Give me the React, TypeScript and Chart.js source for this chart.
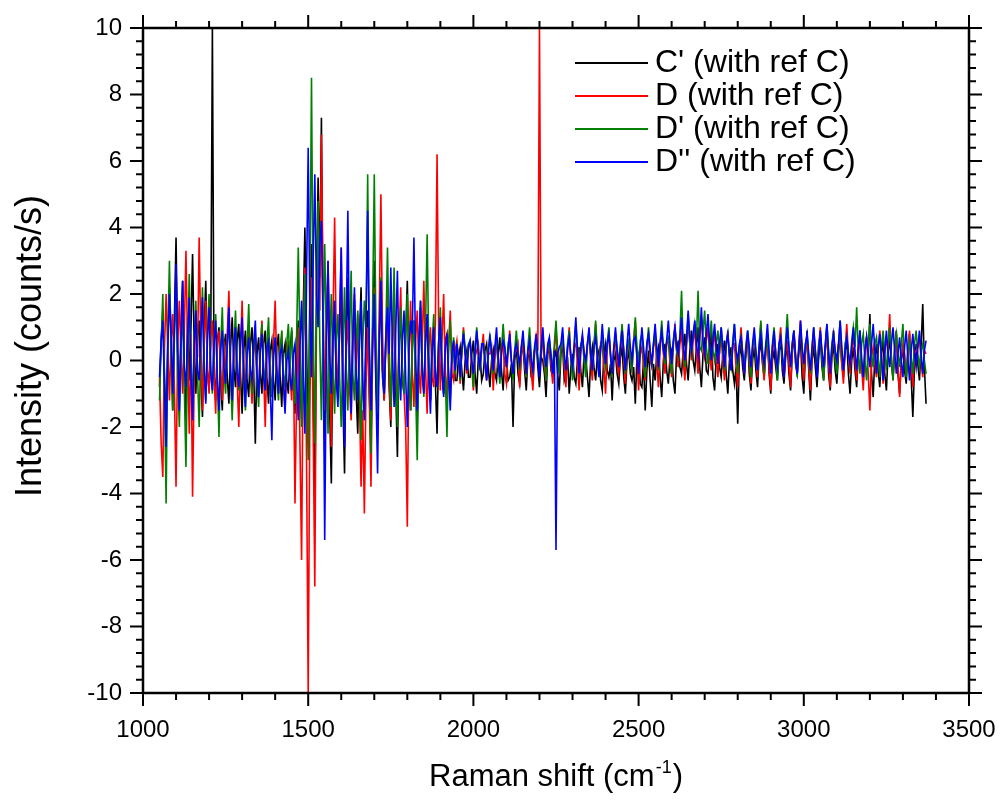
import React, { useEffect, useRef } from "react";
import { Chart, registerables } from "chart.js";

Chart.register(...registerables);

// Raman shift (cm-1) sampling grid
const ramanShift = [
  1050, 1055, 1060, 1065, 1070, 1075, 1080, 1085, 1090, 1095,
  1100, 1105, 1110, 1115, 1120, 1125, 1130, 1135, 1140, 1145,
  1150, 1155, 1160, 1165, 1170, 1175, 1180, 1185, 1190, 1195,
  1200, 1205, 1210, 1215, 1220, 1225, 1230, 1235, 1240, 1245,
  1250, 1255, 1260, 1265, 1270, 1275, 1280, 1285, 1290, 1295,
  1300, 1305, 1310, 1315, 1320, 1325, 1330, 1335, 1340, 1345,
  1350, 1355, 1360, 1365, 1370, 1375, 1380, 1385, 1390, 1395,
  1400, 1405, 1410, 1415, 1420, 1425, 1430, 1435, 1440, 1445,
  1450, 1455, 1460, 1465, 1470, 1475, 1480, 1485, 1490, 1495,
  1500, 1505, 1510, 1515, 1520, 1525, 1530, 1535, 1540, 1545,
  1550, 1555, 1560, 1565, 1570, 1575, 1580, 1585, 1590, 1595,
  1600, 1605, 1610, 1615, 1620, 1625, 1630, 1635, 1640, 1645,
  1650, 1655, 1660, 1665, 1670, 1675, 1680, 1685, 1690, 1695,
  1700, 1705, 1710, 1715, 1720, 1725, 1730, 1735, 1740, 1745,
  1750, 1755, 1760, 1765, 1770, 1775, 1780, 1785, 1790, 1795,
  1800, 1805, 1810, 1815, 1820, 1825, 1830, 1835, 1840, 1845,
  1850, 1855, 1860, 1865, 1870, 1875, 1880, 1885, 1890, 1895,
  1900, 1905, 1910, 1915, 1920, 1925, 1930, 1935, 1940, 1945,
  1950, 1955, 1960, 1965, 1970, 1975, 1980, 1985, 1990, 1995,
  2000, 2005, 2010, 2015, 2020, 2025, 2030, 2035, 2040, 2045,
  2050, 2055, 2060, 2065, 2070, 2075, 2080, 2085, 2090, 2095,
  2100, 2105, 2110, 2115, 2120, 2125, 2130, 2135, 2140, 2145,
  2150, 2155, 2160, 2165, 2170, 2175, 2180, 2185, 2190, 2195,
  2200, 2205, 2210, 2215, 2220, 2225, 2230, 2235, 2240, 2245,
  2250, 2255, 2260, 2265, 2270, 2275, 2280, 2285, 2290, 2295,
  2300, 2305, 2310, 2315, 2320, 2325, 2330, 2335, 2340, 2345,
  2350, 2355, 2360, 2365, 2370, 2375, 2380, 2385, 2390, 2395,
  2400, 2405, 2410, 2415, 2420, 2425, 2430, 2435, 2440, 2445,
  2450, 2455, 2460, 2465, 2470, 2475, 2480, 2485, 2490, 2495,
  2500, 2505, 2510, 2515, 2520, 2525, 2530, 2535, 2540, 2545,
  2550, 2555, 2560, 2565, 2570, 2575, 2580, 2585, 2590, 2595,
  2600, 2605, 2610, 2615, 2620, 2625, 2630, 2635, 2640, 2645,
  2650, 2655, 2660, 2665, 2670, 2675, 2680, 2685, 2690, 2695,
  2700, 2705, 2710, 2715, 2720, 2725, 2730, 2735, 2740, 2745,
  2750, 2755, 2760, 2765, 2770, 2775, 2780, 2785, 2790, 2795,
  2800, 2805, 2810, 2815, 2820, 2825, 2830, 2835, 2840, 2845,
  2850, 2855, 2860, 2865, 2870, 2875, 2880, 2885, 2890, 2895,
  2900, 2905, 2910, 2915, 2920, 2925, 2930, 2935, 2940, 2945,
  2950, 2955, 2960, 2965, 2970, 2975, 2980, 2985, 2990, 2995,
  3000, 3005, 3010, 3015, 3020, 3025, 3030, 3035, 3040, 3045,
  3050, 3055, 3060, 3065, 3070, 3075, 3080, 3085, 3090, 3095,
  3100, 3105, 3110, 3115, 3120, 3125, 3130, 3135, 3140, 3145,
  3150, 3155, 3160, 3165, 3170, 3175, 3180, 3185, 3190, 3195,
  3200, 3205, 3210, 3215, 3220, 3225, 3230, 3235, 3240, 3245,
  3250, 3255, 3260, 3265, 3270, 3275, 3280, 3285, 3290, 3295,
  3300, 3305, 3310, 3315, 3320, 3325, 3330, 3335, 3340, 3345,
  3350, 3355, 3360, 3365, 3370,
];

// C' (with ref C) - black
const cPrimeRefC = [
  -0.8, 0.6, 1.5, -0.4, -2.0, 0.5, 2.2, 0.8, -1.5, 1.2, 3.7, 0.2, -1.2, 1.0, 2.4, -0.5, -1.8, 1.3, -0.6, 0.9,
  3.2, 0.4, -1.0, 0.7, 1.2, -0.6, -1.7, 0.9, 2.4, -0.3, -0.9, 0.5, 10.0, -0.4, -1.2, 0.6, 1.0, -0.7, -1.5, 0.4,
  0.8, -0.5, -1.3, 0.4, 1.3, -0.2, -0.8, 0.6, 1.1, -0.4, -1.6, 0.3, 0.9, -0.6, -1.1, 0.5, 1.0, -0.3, -2.5, 0.2,
  0.7, -0.4, -1.0, 0.5, 0.9, -0.5, -1.3, 0.3, 0.6, -0.6, -1.2, 0.4, 0.8, -0.5, -1.4, 0.2, 0.5, -0.6, -1.0, 0.3,
  0.9, -0.5, -1.6, 0.4, 1.2, -0.7, -1.8, 1.5, 4.0, 0.5, -2.5, 1.8, 3.5, -1.0, -4.3, 2.0, 5.5, 2.5, 7.3, 1.0,
  -2.8, 0.8, 2.6, -1.5, -3.7, 0.6, 1.5, -0.5, -1.0, 0.9, 2.0, -1.2, -3.4, 0.8, 2.5, -0.6, -1.0, 0.7, 1.8, -0.9,
  -2.2, 0.6, 2.2, -0.8, -1.5, 0.5, 1.5, -1.0, -2.6, 0.9, 3.0, -0.7, -1.8, 0.8, 2.0, -0.5, -1.2, 0.6, 1.6, -0.8,
  -2.0, 0.7, 1.8, -0.9, -2.9, 0.5, 1.4, -0.6, -1.0, 0.8, 2.4, -0.5, -1.5, 0.6, 1.2, -0.7, -1.8, 0.5, 1.6, -0.4,
  -0.9, 0.6, 1.3, -0.5, -1.2, 0.4, 0.9, -0.7, -2.2, 0.5, 1.0, -0.4, -1.0, 0.6, 0.8, -0.5, -1.2, 0.3, 0.5, -0.6,
  -0.6, 0.1, 0.4, -0.3, -0.9, 0.0, 0.3, -0.5, -0.5, 0.2, 0.6, -0.4, -1.0, 0.1, 0.2, -0.6, -0.4, 0.3, 0.5, -0.2,
  -0.8, 0.0, 0.3, -0.4, -0.6, 0.2, 0.7, -0.3, -0.9, 0.1, 0.1, -0.6, -0.5, -0.1, -2.0, 0.0, 0.4, -0.4, -0.7, 0.2,
  0.5, -0.3, -0.9, 0.1, 0.2, -0.5, -0.6, 0.3, 0.6, -0.2, -0.8, 0.1, 0.0, -0.4, -1.1, 0.2, 0.4, -0.3, -0.5, 0.1,
  0.3, -0.4, -0.9, 0.2, 0.5, -0.6, -0.4, 0.1, -1.0, -0.2, 0.2, -0.5, -0.7, 0.0, 0.4, -0.3, -0.8, 0.2, 0.1, -0.5,
  -1.1, 0.0, 0.4, -0.2, -0.6, 0.1, 0.3, -0.6, -0.9, 0.2, 0.5, -0.3, -0.5, -0.1, -1.2, 0.0, 0.2, -0.4, -0.7, 0.1,
  0.4, -0.5, -1.0, 0.0, 0.3, -0.4, -0.6, -0.2, -1.3, 0.1, 0.2, -0.7, -0.8, 0.0, -1.5, -0.3, 0.3, -0.6, -1.4, -0.1,
  -0.6, 0.2, 0.4, -0.5, -1.1, 0.0, 0.5, -0.3, -0.7, 0.1, 0.3, -0.6, -1.0, 0.2, 0.6, -0.2, -0.4, 0.3, 0.8, -0.1,
  -0.6, 0.3, 0.9, 0.0, -0.3, 0.4, 1.0, -0.2, -0.8, 0.2, 0.7, -0.3, -0.4, 0.3, 0.9, -0.5, -0.9, 0.1, 0.5, -0.2,
  -0.5, 0.2, 0.6, -0.4, -1.0, 0.0, 0.4, -0.3, -0.7, -0.2, -1.9, 0.1, 0.5, -0.2, -0.6, 0.3, 0.7, -0.4, -0.9, 0.0,
  0.4, -0.3, -0.8, 0.2, 0.6, -0.1, -0.5, 0.3, 0.8, -0.4, -1.0, 0.0, 0.3, -0.2, -0.6, 0.2, 0.7, -0.3, -0.7, 0.1,
  0.5, -0.4, -0.9, 0.2, 0.8, -0.1, -0.4, 0.3, 0.6, -0.5, -1.0, 0.2, 0.9, -0.3, -1.2, 0.0, 0.4, -0.2, -0.8, 0.1,
  0.7, -0.2, -0.6, 0.3, 1.0, -0.4, -0.9, 0.1, 0.5, -0.3, -0.7, 0.2, 0.8, -0.1, -0.5, 0.3, 0.6, -0.4, -1.0, 0.0,
  0.4, -0.3, -0.8, 0.2, 0.9, -0.2, -0.6, 0.3, 0.7, 0.1, 1.4, -0.4, -1.1, 0.1, 0.5, -0.3, -0.8, 0.2, 0.6, -0.4,
  -0.9, 0.2, 0.7, -0.1, -0.5, 0.3, 0.9, -0.4, -1.0, 0.0, 0.4, -0.3, -0.7, 0.2, 0.8, -0.5, -1.7, -0.2, 0.5, -0.1,
  -0.6, 0.4, 1.7, -0.2, -1.3,
];

// D (with ref C) - red
const dRefC = [
  -0.5, -2.5, -3.5, 0.4, 2.0, 0.3, -1.2, 0.6, 1.4, -0.9, -3.8, 0.5, 1.8, 0.2, -1.0, 0.9, 3.3, 0.4, -2.2, 0.8,
  -4.1, -0.5, 1.5, 0.1, 3.7, 0.6, -1.5, 0.4, 1.8, -0.3, -1.0, 0.7, 1.2, -0.4, -1.6, 0.5, 0.9, -0.2, -1.2, 0.6,
  -0.6, 0.8, 2.1, -0.3, -1.5, 0.4, 0.8, -0.6, -2.0, 0.3, 1.8, -0.2, -0.9, 0.5, 1.1, -0.4, -1.3, 0.2, 0.7, -0.5,
  -1.0, 0.4, 1.2, -0.3, -2.0, 0.2, 0.6, -0.5, -0.8, 0.5, 1.8, -0.2, -1.0, 0.4, 0.7, -0.6, -1.5, 0.1, 0.6, -0.4,
  -1.2, 0.3, -4.3, -1.0, 1.0, -2.5, -6.0, 0.5, 2.8, -3.0, -10.0, -1.5, 2.5, -2.0, -6.8, 1.0, 4.2, 1.5, 6.8, 2.0,
  -1.5, 1.0, 3.0, 0.2, -2.6, 1.2, 4.3, 0.5, -1.2, 1.0, 3.4, -0.5, -1.5, 0.4, 1.2, -0.8, -1.8, 0.6, 2.0, -0.6,
  1.4, -1.0, -3.8, -1.5, -4.6, -0.8, 1.0, -1.2, -3.8, 0.3, 2.2, -0.4, -1.5, 1.5, 5.0, 0.8, -1.2, 0.5, 2.0, -0.5,
  -1.8, 0.4, 1.6, -0.5, -1.3, 0.7, 2.2, -0.3, -1.0, -2.0, -5.0, 0.2, 1.8, -0.4, -1.4, 0.6, 1.5, -0.3, -1.0, 0.5,
  2.4, -0.2, -1.6, 0.4, 1.0, -0.5, -0.8, 1.2, 6.2, 0.8, -0.9, 0.6, 2.0, -0.3, -1.2, 0.5, 1.5, -0.4, -0.6, 0.3,
  0.6, 0.0, -0.7, 0.3, 1.0, 0.2, -0.4, 0.4, 0.5, -0.2, -0.9, 0.1, 0.3, 0.5, -0.2, 0.3, 0.8, -0.1, -0.6, 0.2,
  0.2, 0.4, -0.9, 0.0, 0.7, -0.2, -0.3, 0.5, 0.5, -0.4, -0.7, 0.3, 0.9, 0.0, -0.4, 0.2, 0.3, 0.5, -0.8, 0.1,
  0.6, -0.1, -0.5, 0.3, 0.4, -0.3, -0.9, 0.2, 0.7, 0.3, 10.0, 0.1, 0.8, -0.2, -0.6, 0.4, 0.4, -0.1, -0.7, 0.3,
  0.9, 0.1, -0.4, 0.5, 0.6, -0.2, -0.8, 0.3, 1.0, 0.0, -0.3, 0.4, 0.5, -0.1, -0.9, 0.2, 0.7, 0.3, -0.2, 0.5,
  0.8, 0.0, -0.6, 0.4, 1.1, 0.2, -0.3, 0.5, 0.4, -0.2, -1.0, 0.3, 0.9, 0.1, -0.5, 0.4, 0.6, -0.1, -0.4, 0.3,
  1.0, 0.2, -0.7, 0.3, 0.5, 0.0, -0.3, 0.6, 1.2, 0.1, -0.9, 0.2, 0.4, -0.2, -0.6, 0.5, 0.8, 0.0, -0.2, 0.4,
  0.7, -0.1, -0.8, 0.3, 1.0, 0.2, -0.4, 0.5, 0.6, -0.1, -0.5, 0.4, 1.1, 0.3, -0.2, 0.5, 0.8, 0.0, -0.6, 0.4,
  1.2, 0.5, 0.0, 0.6, 0.9, 0.2, -0.4, 0.7, 1.3, 0.4, 0.1, 0.6, 1.0, 0.2, -0.3, 0.5, 0.8, 0.1, -0.5, 0.3,
  0.7, 0.0, -0.6, 0.4, 0.9, 0.1, -0.3, 0.5, 0.5, -0.2, -0.8, 0.3, 1.0, 0.2, -0.4, 0.4, 0.6, -0.1, -0.7, 0.3,
  0.8, 0.1, -0.5, 0.4, 1.1, 0.0, -0.6, 0.3, 0.4, -0.2, -0.9, 0.2, 0.7, 0.3, -0.3, 0.5, 1.0, 0.1, -0.5, 0.2,
  0.6, -0.1, -0.8, 0.3, 0.9, 0.2, -0.4, 0.5, 1.2, 0.0, -0.6, 0.3, 0.5, -0.2, -0.9, 0.2, 0.8, 0.3, -0.3, 0.4,
  1.0, 0.1, -0.5, 0.4, 0.7, -0.1, -0.8, 0.3, 0.9, 0.2, -0.2, 0.5, 0.6, -0.1, -0.7, 0.3, 1.1, 0.2, -0.4, 0.3,
  0.8, 0.0, -0.6, 0.4, 0.5, -0.2, -0.9, 0.3, 0.7, -0.4, -1.5, 0.1, 0.4, -0.1, -0.5, 0.3, 0.9, 0.2, -0.7, 0.2,
  0.6, 0.4, 1.4, 0.1, -0.6, 0.3, 0.8, -0.2, -1.1, 0.0, 0.5, 0.2, -0.4, 0.3, 0.9, -0.1, -0.8, 0.2, 0.3, 0.4,
  0.7, 0.0, -0.5, 0.3, 0.2,
];

// D' (with ref C) - green
const dPrimeRefC = [
  -1.2, 0.5, 2.0, -0.8, -4.3, 0.6, 3.0, 0.2, -1.5, 0.7, 2.2, -0.5, -2.0, 0.4, 1.5, -0.8, -3.2, 0.3, 2.6, 0.1,
  -1.4, 0.6, 1.8, -0.4, -2.0, 0.5, 2.2, -0.3, -1.2, 0.8, 2.0, -0.2, -1.0, 0.6, 1.4, -0.5, -2.3, 0.4, 1.6, -0.3,
  -1.0, 0.5, 1.2, -0.4, -1.8, 0.3, 1.5, -0.2, -0.9, 0.6, 1.0, -0.5, -1.5, 0.4, 1.7, -0.3, -1.0, 0.5, 0.8, -0.6,
  -1.4, 0.3, 1.1, -0.2, -0.7, 0.5, 1.3, -0.4, -1.1, 0.2, 0.6, -0.5, -1.2, 0.3, 0.9, -0.4, -0.8, 0.5, 1.1, -0.3,
  1.0, -0.2, -1.3, 0.8, 3.4, 0.5, -2.0, 0.6, 2.6, -0.8, -3.0, 2.0, 8.5, 1.2, -2.5, 1.5, 4.8, 0.6, -1.8, 1.0,
  3.5, 0.5, -2.2, 0.4, 2.0, -0.3, -1.6, 0.6, 1.4, -0.5, -2.0, 0.3, 2.2, -0.2, -1.5, 0.7, 2.7, -0.4, -1.2, 0.5,
  1.5, -0.6, -2.4, 0.5, 1.8, 0.9, 5.6, 0.3, -2.8, 1.5, 5.6, 0.8, -1.6, 0.4, 2.5, -0.3, -1.0, 0.8, 3.4, 0.4,
  -1.4, 0.6, 2.8, -0.2, -2.0, 0.5, 1.6, -0.4, -1.0, 0.7, 2.0, -0.3, -1.5, 0.4, 1.2, -0.8, -3.0, 0.3, 1.8, -0.2,
  -1.1, 0.9, 3.8, 0.2, -1.2, 0.5, 1.4, -0.3, -0.8, 0.6, 1.6, -0.2, -1.0, -0.5, -2.3, 0.4, 1.2, -0.1, 0.7, -0.4,
  0.4, 0.1, -0.6, 0.3, 0.9, 0.4, -0.2, 0.5, 0.6, 0.0, -0.8, 0.2, 1.0, 0.3, -0.3, 0.4, 0.5, 0.1, -0.5, 0.3,
  0.8, 0.2, -0.4, 0.4, 0.6, -0.1, -0.7, 0.3, 1.1, 0.4, -0.2, 0.5, 0.4, 0.0, -0.6, 0.3, 0.9, 0.2, -0.3, 0.4,
  0.7, 0.1, -0.5, 0.4, 1.0, 0.2, -0.4, 0.3, 0.5, 0.0, -0.2, 0.5, 0.8, 0.1, -0.6, 0.3, 0.6, 0.2, -0.3, 0.5,
  1.2, 0.3, -0.4, 0.4, 0.7, 0.0, -0.2, 0.5, 0.9, 0.1, -0.6, 0.3, 1.1, 0.4, -0.1, 0.5, 0.6, 0.0, -0.5, 0.4,
  0.9, 0.2, -0.3, 0.5, 1.2, 0.3, -0.4, 0.4, 0.7, 0.1, -0.2, 0.5, 1.0, 0.2, -0.5, 0.3, 0.8, 0.4, -0.1, 0.5,
  1.1, 0.3, -0.4, 0.4, 0.6, 0.0, -0.3, 0.5, 1.3, 0.4, 0.0, 0.6, 0.8, 0.1, -0.5, 0.4, 1.0, 0.3, -0.2, 0.5,
  0.9, 0.2, -0.3, 0.5, 1.2, 0.4, -0.1, 0.6, 0.7, 0.1, -0.4, 0.5, 1.0, 0.3, 0.1, 0.8, 2.1, 0.4, -0.2, 0.6,
  1.4, 0.5, 0.2, 0.7, 1.1, 0.6, 2.1, 0.4, 0.3, 0.9, 1.5, 0.4, -0.1, 0.6, 1.2, 0.3, 0.0, 0.5, 0.9, 0.2,
  1.0, 0.3, -0.3, 0.5, 0.8, 0.1, -0.2, 0.6, 1.1, 0.2, -0.4, 0.4, 0.7, 0.2, -0.1, 0.5, 0.9, 0.1, -0.5, 0.4,
  0.8, 0.1, -0.3, 0.5, 1.2, 0.3, -0.4, 0.4, 0.6, 0.0, -0.2, 0.5, 1.0, 0.2, -0.6, 0.3, 0.7, 0.1, -0.3, 0.6,
  1.4, 0.4, -0.2, 0.5, 0.9, 0.1, -0.5, 0.4, 1.1, 0.3, -0.1, 0.5, 0.7, 0.0, -0.4, 0.4, 1.0, 0.2, -0.3, 0.5,
  0.8, 0.1, -0.6, 0.4, 1.1, 0.3, -0.2, 0.5, 0.9, 0.0, -0.4, 0.4, 1.2, 0.2, -0.3, 0.5, 0.7, 0.2, -0.1, 0.6,
  1.0, 0.4, 1.6, 0.3, -0.4, 0.5, 0.8, 0.0, -0.6, 0.4, 1.1, 0.2, -0.2, 0.5, 0.7, 0.1, -0.5, 0.4, 0.9, 0.2,
  -0.3, 0.5, 1.0, 0.1, -0.6, 0.4, 0.8, 0.2, -0.2, 0.5, 1.1, 0.0, -0.5, 0.3, 0.6, 0.1, -0.4, 0.5, 0.9, 0.2,
  -0.2, 0.3, 0.5, 0.0, -0.4,
];

// D'' (with ref C) - blue
const dDoublePrimeRefC = [
  -0.5, 0.6, 1.2, -0.9, -2.6, 0.4, 2.0, 0.8, -1.0, 1.0, 2.9, 0.3, -1.5, 0.6, 2.4, -0.2, -0.8, 0.7, 1.9, -0.4,
  -1.8, 0.5, 1.5, -0.3, -0.6, 0.8, 1.9, -0.2, -1.3, 0.6, 1.6, -0.4, -0.9, 0.5, 1.2, -0.6, -1.5, 0.3, 0.9, -0.2,
  -0.7, 0.4, 1.6, -0.3, -1.2, 0.5, 1.0, -0.4, -0.8, 0.6, 1.3, -0.5, -1.4, 0.2, 0.7, -0.3, -0.6, 0.5, 1.2, -0.4,
  -1.1, 0.3, 0.8, -0.5, -0.9, 0.4, 0.6, -0.8, -2.4, 0.1, 0.7, -0.4, -1.0, 0.2, 0.4, -0.6, -1.6, 0.0, 0.3, -0.5,
  -0.9, 0.2, 0.5, -0.6, -1.8, 0.4, 1.8, -0.5, -2.2, 2.5, 6.4, 1.5, -0.5, 3.0, 5.6, 2.0, 1.0, 3.5, 4.2, 1.0,
  -5.4, 0.5, 3.0, 0.2, -1.0, 0.8, 1.8, -0.6, -1.4, 1.2, 3.4, -0.5, -2.6, 1.0, 4.5, 0.3, -1.6, 0.6, 2.2, -0.4,
  -1.2, 0.5, 1.8, -0.6, -1.8, 1.2, 4.5, 0.4, -1.5, 0.6, 2.0, -0.8, -3.4, 0.5, 2.4, -0.3, -1.0, 0.7, 1.6, 0.2,
  2.8, 0.3, -1.4, 0.9, 2.7, -0.2, -1.2, 0.6, 1.5, -0.5, -2.0, 0.4, 1.2, 0.8, 3.7, 0.2, -1.5, 0.5, 1.8, -0.3,
  -1.0, 0.5, 1.4, -0.4, -1.6, 0.3, 1.0, -0.5, -0.8, 0.6, 1.3, -0.3, -1.1, 0.4, 0.8, -0.4, -1.5, 0.2, 0.6, -0.3,
  0.5, 0.1, -0.5, 0.3, 0.8, 0.2, -0.3, 0.4, 0.6, 0.0, -0.4, 0.3, 0.9, 0.1, -0.2, 0.5, 0.5, 0.0, -0.6, 0.2,
  0.7, 0.3, -0.3, 0.4, 1.0, 0.1, -0.5, 0.2, 0.6, 0.4, -0.2, 0.3, 0.8, 0.0, -0.4, 0.3, 0.5, 0.2, -0.1, 0.4,
  0.9, 0.2, -0.4, 0.3, 0.6, 0.0, -0.3, 0.4, 0.8, 0.1, -0.5, 0.3, 1.0, 0.2, -0.2, 0.5, 0.7, 0.1, -0.4, 0.3,
  -5.7, 0.2, 0.4, 0.5, 1.0, 0.2, -0.3, 0.4, 0.7, 0.1, -0.2, 0.5, 1.3, 0.3, -0.4, 0.4, 0.8, 0.2, 0.0, 0.5,
  1.0, 0.2, -0.3, 0.4, 0.7, 0.1, -0.5, 0.3, 1.1, 0.4, -0.1, 0.5, 0.8, 0.2, -0.4, 0.4, 1.0, 0.3, -0.2, 0.4,
  0.9, 0.3, -0.3, 0.5, 1.1, 0.4, 0.0, 0.6, 0.7, 0.1, -0.4, 0.3, 1.0, 0.4, -0.2, 0.5, 0.8, 0.3, -0.1, 0.5,
  1.1, 0.4, -0.2, 0.5, 0.9, 0.3, 0.1, 0.6, 1.2, 0.5, -0.1, 0.6, 1.0, 0.4, 0.2, 0.7, 1.3, 0.5, 0.0, 0.6,
  1.5, 0.7, 0.3, 0.8, 1.2, 0.5, 0.1, 0.7, 1.6, 0.6, 0.2, 0.8, 1.4, 0.5, 0.0, 0.6, 1.1, 0.4, -0.1, 0.5,
  1.0, 0.4, -0.2, 0.5, 0.8, 0.2, -0.3, 0.4, 1.1, 0.3, 0.0, 0.5, 0.7, 0.2, -0.4, 0.3, 0.9, 0.4, -0.2, 0.5,
  1.0, 0.3, -0.3, 0.4, 0.8, 0.2, -0.1, 0.5, 1.1, 0.3, -0.4, 0.4, 0.9, 0.1, -0.2, 0.5, 0.7, 0.2, -0.5, 0.3,
  1.0, 0.4, -0.2, 0.5, 0.9, 0.1, -0.4, 0.3, 1.2, 0.4, -0.1, 0.5, 0.8, 0.2, -0.3, 0.4, 1.0, 0.3, -0.5, 0.2,
  0.9, 0.3, -0.2, 0.5, 1.1, 0.2, -0.4, 0.4, 0.8, 0.3, 0.0, 0.5, 1.2, 0.4, -0.3, 0.3, 0.7, 0.2, -0.1, 0.4,
  1.0, 0.3, -0.3, 0.4, 0.9, 0.1, -0.5, 0.3, 0.7, 0.2, -0.2, 0.5, 1.1, 0.3, -0.4, 0.4, 0.8, 0.1, -0.6, 0.3,
  0.9, 0.2, -0.2, 0.5, 1.0, 0.3, -0.4, 0.2, 0.7, 0.0, -0.5, 0.4, 0.9, 0.1, -0.6, 0.3, 0.8, 0.2, -0.2, 0.4,
  0.9, 0.2, -0.4, 0.3, 0.6,
];

const seriesLabels = [
  "C' (with ref C)",
  "D (with ref C)",
  "D' (with ref C)",
  "D'' (with ref C)",
];
const seriesColors = ["#000000", "#ff0000", "#008000", "#0000ff"];

const xAxisTitle = "Raman shift (cm";
const xAxisTitleSup = "-1";
const xAxisTitleEnd = ")";
const yAxisTitle = "Intensity (counts/s)";

const X_MIN = 1000;
const X_MAX = 3500;
const X_MAJOR = 500;
const X_MINOR = 100;
const Y_MIN = -10;
const Y_MAX = 10;
const Y_MAJOR = 2;
const Y_MINOR_PER_MAJOR = 5;

const FONT = "'Liberation Sans', Arial, Helvetica, sans-serif";

const framePlugin = {
  id: "originFrame",
  afterDraw(chart: any) {
    const { ctx, chartArea, scales } = chart;
    const { left, right, top, bottom } = chartArea;
    const xs = scales.x;
    const ys = scales.y;
    const MAJ = 13;
    const MIN = 7;
    ctx.save();
    ctx.strokeStyle = "#000";
    ctx.lineWidth = 2;
    ctx.lineCap = "butt";
    // x ticks (outward, bottom and top)
    const nx = Math.round((X_MAX - X_MIN) / X_MINOR);
    const perMajX = Math.round(X_MAJOR / X_MINOR);
    for (let i = 0; i <= nx; i++) {
      const v = X_MIN + i * X_MINOR;
      const px = xs.getPixelForValue(v);
      const len = i % perMajX === 0 ? MAJ : MIN;
      ctx.beginPath();
      ctx.moveTo(px, bottom);
      ctx.lineTo(px, bottom + len);
      ctx.moveTo(px, top);
      ctx.lineTo(px, top - len);
      ctx.stroke();
    }
    // y ticks (outward, left and right)
    const ny = Math.round(((Y_MAX - Y_MIN) / Y_MAJOR) * Y_MINOR_PER_MAJOR);
    for (let i = 0; i <= ny; i++) {
      const v = Y_MIN + (i * Y_MAJOR) / Y_MINOR_PER_MAJOR;
      const py = ys.getPixelForValue(v);
      const len = i % Y_MINOR_PER_MAJOR === 0 ? MAJ : MIN;
      ctx.beginPath();
      ctx.moveTo(left, py);
      ctx.lineTo(left - len, py);
      ctx.moveTo(right, py);
      ctx.lineTo(right + len, py);
      ctx.stroke();
    }
    // frame
    ctx.lineWidth = 2.5;
    ctx.strokeRect(left, top, right - left, bottom - top);

    // legend (inside top-right)
    const lx0 = right - 394;
    const lx1 = right - 321;
    const tx = right - 314;
    ctx.font = `32px ${FONT}`;
    ctx.textBaseline = "middle";
    ctx.textAlign = "left";
    seriesLabels.forEach((label, i) => {
      const yy = top + 35 + i * 33;
      ctx.strokeStyle = seriesColors[i];
      ctx.lineWidth = 2;
      ctx.beginPath();
      ctx.moveTo(lx0, yy);
      ctx.lineTo(lx1, yy);
      ctx.stroke();
      ctx.fillStyle = "#000";
      ctx.fillText(label, tx, yy);
    });

    // x-axis title with superscript
    ctx.fillStyle = "#000";
    ctx.textBaseline = "alphabetic";
    ctx.textAlign = "left";
    const mainFont = `31px ${FONT}`;
    const supFont = `18px ${FONT}`;
    ctx.font = mainFont;
    const w1 = ctx.measureText(xAxisTitle).width;
    const w3 = ctx.measureText(xAxisTitleEnd).width;
    ctx.font = supFont;
    const w2 = ctx.measureText(xAxisTitleSup).width;
    const total = w1 + w2 + w3 + 2;
    const cx = (left + right) / 2;
    const baseY = 786;
    let sx = cx - total / 2;
    ctx.font = mainFont;
    ctx.fillText(xAxisTitle, sx, baseY);
    sx += w1 + 1;
    ctx.font = supFont;
    ctx.fillText(xAxisTitleSup, sx, baseY - 13);
    sx += w2 + 1;
    ctx.font = mainFont;
    ctx.fillText(xAxisTitleEnd, sx, baseY);

    // y-axis title (rotated)
    ctx.save();
    ctx.translate(31, 346);
    ctx.rotate(-Math.PI / 2);
    ctx.font = `36px ${FONT}`;
    ctx.textAlign = "center";
    ctx.textBaseline = "middle";
    ctx.fillText(yAxisTitle, 0, 0);
    ctx.restore();

    ctx.restore();
  },
};

export default function App() {
  const ref = useRef<HTMLCanvasElement>(null);
  useEffect(() => {
    const canvas = ref.current;
    if (!canvas) return;
    const series = [cPrimeRefC, dRefC, dPrimeRefC, dDoublePrimeRefC];
    const datasets = series.map((vals, i) => ({
      label: seriesLabels[i],
      data: ramanShift.map((x, j) => ({ x, y: vals[j] })),
      borderColor: seriesColors[i],
      backgroundColor: seriesColors[i],
      borderWidth: 1.6,
      pointRadius: 0,
      tension: 0,
      fill: false,
      order: series.length - i,
    }));
    const chart = new Chart(canvas, {
      type: "line",
      data: { datasets },
      options: {
        animation: false,
        responsive: false,
        events: [],
        layout: { padding: { top: 28, right: 31, bottom: 0, left: 0 } },
        plugins: { legend: { display: false }, tooltip: { enabled: false } },
        scales: {
          x: {
            type: "linear",
            min: X_MIN,
            max: X_MAX,
            afterFit: (s: any) => {
              s.height = 108;
              s.paddingLeft = 0;
              s.paddingRight = 0;
            },
            grid: { display: false, drawTicks: false },
            border: { display: false },
            ticks: {
              stepSize: X_MAJOR,
              autoSkip: false,
              maxRotation: 0,
              padding: 23,
              color: "#000",
              font: { family: FONT, size: 24 },
              callback: (v: any) => String(v),
            },
            title: { display: false },
          },
          y: {
            type: "linear",
            min: Y_MIN,
            max: Y_MAX,
            afterFit: (s: any) => {
              s.width = 143;
              s.paddingTop = 0;
              s.paddingBottom = 0;
            },
            grid: { display: false, drawTicks: false },
            border: { display: false },
            ticks: {
              stepSize: Y_MAJOR,
              padding: 21,
              color: "#000",
              font: { family: FONT, size: 24 },
              callback: (v: any) => String(v),
            },
            title: { display: false },
          },
        },
      } as any,
      plugins: [framePlugin],
    });
    return () => chart.destroy();
  }, []);
  return (
    <div
      style={{
        position: "fixed",
        left: 0,
        top: 0,
        width: 1000,
        height: 801,
        background: "#fff",
      }}
    >
      <canvas
        ref={ref}
        width={1000}
        height={801}
        style={{ width: 1000, height: 801, display: "block" }}
      />
    </div>
  );
}
